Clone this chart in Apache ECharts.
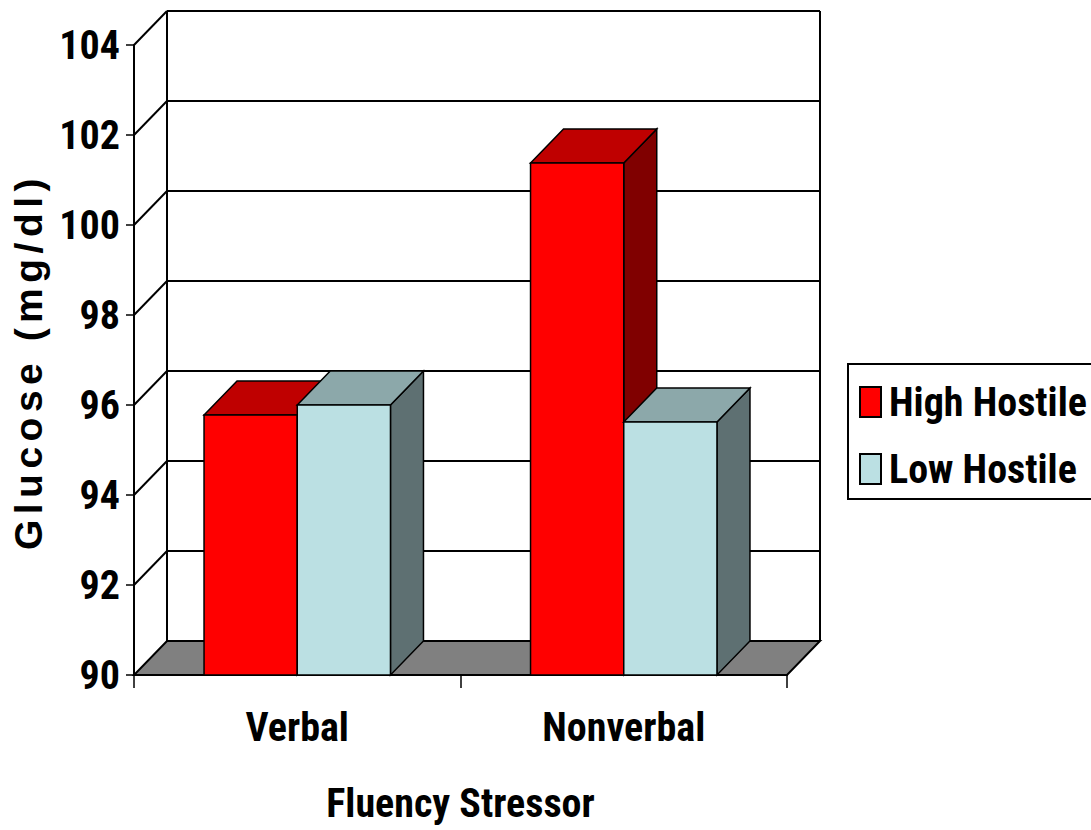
<!DOCTYPE html>
<html><head><meta charset="utf-8">
<style>
html,body{margin:0;padding:0;background:#fff;overflow:hidden}
#c{width:1091px;height:830px}
#c text[style*="39px"]{letter-spacing:5.5px}
</style>
<script src="https://cdn.jsdelivr.net/npm/echarts@6/dist/echarts.min.js"></script>
</head><body><div id="c"></div>
<script>
const categories = ['Verbal', 'Nonverbal'];
const highHostile = [95.78, 101.38];
const lowHostile = [96.0, 95.62];
const tickValues = [90, 92, 94, 96, 98, 100, 102, 104];

const DX = 33, DY = -34;
const NARROW = "'Roboto Condensed','Liberation Sans',sans-serif";

function barItem(offsetSign, front, top, side) {
  return function (params, api) {
    const p = api.coord([api.value(0), api.value(1)]);
    const base = api.coord([api.value(0), 90]);
    const band = api.size([1, 0])[0];
    const w = band * 0.2855;
    const x0 = offsetSign < 0 ? p[0] - w : p[0];
    const x1 = x0 + w, yT = p[1], yB = base[1];
    const ln = { stroke: '#000', lineWidth: 1.5, lineJoin: 'miter' };
    return { type: 'group', children: [
      { type: 'polygon', shape: { points: [[x1, yT], [x1 + DX, yT + DY], [x1 + DX, yB + DY], [x1, yB]] }, style: Object.assign({ fill: side }, ln) },
      { type: 'polygon', shape: { points: [[x0, yT], [x0 + DX, yT + DY], [x1 + DX, yT + DY], [x1, yT]] }, style: Object.assign({ fill: top }, ln) },
      { type: 'rect', shape: { x: x0, y: yT, width: w, height: yB - yT }, style: Object.assign({ fill: front }, ln) }
    ] };
  };
}

function wallItem(params, api) {
  const v = api.value(1);
  const y = api.coord([0, v])[1];
  const cs = params.coordSys;
  const L = cs.x, R = cs.x + cs.width;
  const ln = { stroke: '#000', lineWidth: 2 };
  const children = [];
  if (v === tickValues[0]) {
    children.push({ type: 'polygon', shape: { points: [[L, y], [R, y], [R + DX, y + DY], [L + DX, y + DY]] }, style: { fill: '#808080', stroke: '#000', lineWidth: 2 } });
    const yTop = api.coord([0, tickValues[tickValues.length - 1]])[1];
    children.push({ type: 'line', shape: { x1: L + DX, y1: y + DY, x2: L + DX, y2: yTop + DY }, style: ln });
    children.push({ type: 'line', shape: { x1: R + DX, y1: y + DY, x2: R + DX, y2: yTop + DY }, style: ln });
  } else {
    children.push({ type: 'line', shape: { x1: L, y1: y, x2: L + DX, y2: y + DY }, style: ln });
    children.push({ type: 'line', shape: { x1: L + DX, y1: y + DY, x2: R + DX, y2: y + DY }, style: ln });
  }
  return { type: 'group', children };
}

const chart = echarts.init(document.getElementById('c'), null, { renderer: 'svg' });
chart.setOption({
  animation: false,
  backgroundColor: '#fff',
  grid: { left: 134, top: 45, width: 653, height: 630, outerBoundsMode: 'none' },
  legend: {
    left: 848, top: 364,
    orient: 'vertical',
    padding: [18, 30, 10, 11],
    icon: 'rect',
    itemWidth: 21, itemHeight: 30, itemGap: 27,
    borderColor: '#000', borderWidth: 2,
    textStyle: { fontFamily: NARROW, fontWeight: 'bold', fontSize: 40, color: '#000', padding: [0, 0, 0, 3] },
    data: ['High Hostile', 'Low Hostile']
  },
  xAxis: {
    type: 'category', data: categories,
    axisLine: { lineStyle: { color: '#000', width: 2 } },
    axisTick: { show: true, alignWithLabel: false, length: 13, lineStyle: { color: '#000', width: 1.5 } },
    axisLabel: { fontFamily: NARROW, fontWeight: 'bold', fontSize: 40, color: '#000', margin: 32 },
    name: 'Fluency Stressor', nameLocation: 'middle', nameGap: 108,
    nameTextStyle: { fontFamily: NARROW, fontWeight: 'bold', fontSize: 40, color: '#000' }
  },
  yAxis: {
    type: 'value', min: 90, max: 104, interval: 2,
    splitLine: { show: false },
    axisLine: { show: true, lineStyle: { color: '#000', width: 2 } },
    axisTick: { show: true, length: 8, lineStyle: { color: '#000', width: 1.5 } },
    axisLabel: { fontFamily: NARROW, fontWeight: 'bold', fontSize: 40, color: '#000', margin: 14, padding: [4, 0, 0, 0] },
    name: 'Glucose (mg/dl)', nameLocation: 'middle', nameGap: 84, nameRotate: 90,
    nameTextStyle: { fontFamily: "'Liberation Sans',sans-serif", fontWeight: 'bold', fontSize: 39, color: '#000', padding: [0, 0, 0, -3] }
  },
  series: [
    { type: 'custom', name: 'walls', silent: true, z: 1, data: tickValues.map(v => [0, v]), renderItem: wallItem, encode: { x: 0, y: 1 } },
    { type: 'custom', name: 'High Hostile', z: 2, itemStyle: { color: '#FF0000', borderColor: '#000', borderWidth: 1.5 },
      data: highHostile.map((v, i) => [i, v]), renderItem: barItem(-1, '#FF0000', '#BF0000', '#800000'), encode: { x: 0, y: 1 } },
    { type: 'custom', name: 'Low Hostile', z: 3, itemStyle: { color: '#BBE0E3', borderColor: '#000', borderWidth: 1.5 },
      data: lowHostile.map((v, i) => [i, v]), renderItem: barItem(1, '#BBE0E3', '#8CA8AA', '#5E7072'), encode: { x: 0, y: 1 } }
  ]
});
</script></body></html>
